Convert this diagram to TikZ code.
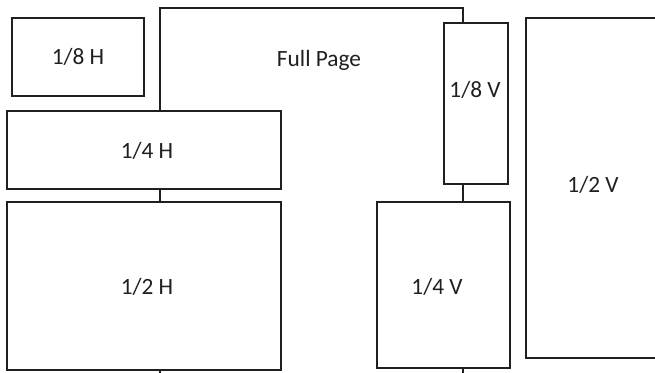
\documentclass[tikz,border=0pt]{standalone}
\usepackage{fontspec}
\setmainfont{Carlito}
\definecolor{ink}{HTML}{231F20}
\begin{document}
\begin{tikzpicture}[x=1bp,y=-1bp,
  box/.style={draw=ink,fill=white,line width=1.4bp,inner sep=0pt,outer sep=0pt,anchor=north west},
  lbl/.style={text=ink,inner sep=0pt,font=\fontsize{23.4}{28}\selectfont}]
\useasboundingbox (0,0) rectangle (655,372);
\clip (0,0) rectangle (655,372);
% Full page (partly hidden by the other boxes)
\node[box,minimum width=303bp,minimum height=392bp] (full) at (160,8) {};
\node[lbl] (fullt) at (319,60) {Full Page};
% 1/8 H
\node[box,minimum width=132bp,minimum height=78bp] (h8) at (12,18) {};
\node[lbl] (h8t) at (78,57) {1/8 H};
% 1/4 H
\node[box,minimum width=274bp,minimum height=78bp] (h4) at (7,111) {};
\node[lbl] (h4t) at (147,151) {1/4 H};
% 1/2 H
\node[box,minimum width=274bp,minimum height=168bp] (h2) at (7,202) {};
\node[lbl] (h2t) at (147,287) {1/2 H};
% 1/8 V
\node[box,minimum width=64bp,minimum height=161bp] (v8) at (444,23) {};
\node[lbl] (v8t) at (475,90) {1/8 V};
% 1/4 V
\node[box,minimum width=133bp,minimum height=166bp] (v4) at (377,202) {};
\node[lbl] (v4t) at (437,287) {1/4 V};
% 1/2 V
\node[box,minimum width=160bp,minimum height=340bp] (v2) at (526,18) {};
\node[lbl] (v2t) at (593,185) {1/2 V};
\end{tikzpicture}
\end{document}
